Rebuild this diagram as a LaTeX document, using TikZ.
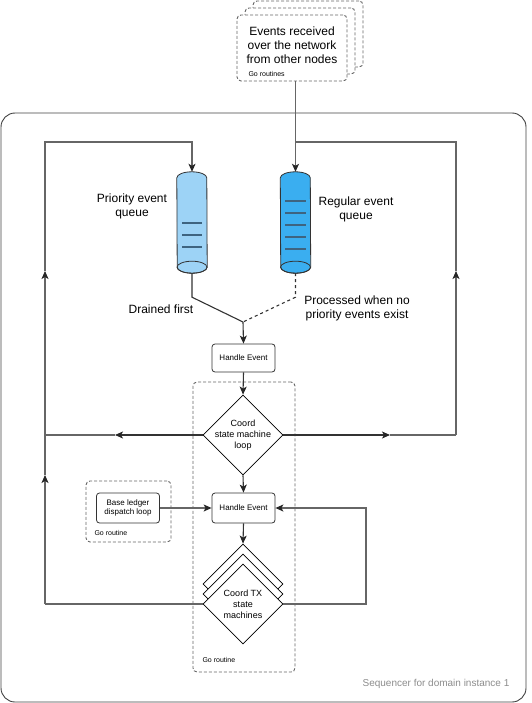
\documentclass[tikz,border=0pt]{standalone}
\usepackage{fontspec}
\setmainfont{Liberation Sans}
\usetikzlibrary{shapes.geometric,arrows.meta}
\definecolor{prioc}{HTML}{9DD3F6}
\definecolor{regc}{HTML}{3AAEF0}
\definecolor{qlinec}{HTML}{3E6480}
% cylinder drawn round a named node
\newcommand\drawqueue[2]{%
    \path[draw=black!80,line width=0.8pt,fill=#2] ([yshift=-6pt]#1.north west) arc[start angle=180,end angle=0,x radius=15pt,y radius=6pt]
        -- ([yshift=6pt]#1.south east) arc[start angle=0,end angle=-180,x radius=15pt,y radius=6pt] -- cycle;
    \draw[black!80,line width=0.8pt] ([yshift=6pt]#1.south) ellipse[x radius=15pt,y radius=6pt];}
\begin{document}
\begin{tikzpicture}[>={Stealth[length=8pt,width=7pt,inset=2pt,color=black!85]},x=1pt,y=-1pt,font=\fontsize{12}{14}\selectfont,
    conn/.style={draw=black!60,line width=1.1pt},
    dconn/.style={draw=black!80,line width=1.1pt},
    box/.style={draw=black!80,fill=white,rounded corners=3pt,line width=0.8pt,minimum width=63pt,minimum height=30pt,inner sep=0pt,align=center,font=\fontsize{8}{9.5}\selectfont},
    grp/.style={draw=black!60,dash pattern=on 3pt off 2pt,rounded corners=4pt,line width=0.9pt},
    evbox/.style={grp,fill=white,minimum width=110pt,minimum height=66pt},
    dia/.style={diamond,draw=black,fill=white,aspect=1,minimum width=80pt,minimum height=80pt,inner sep=0pt,line width=0.8pt},
    diatext/.style={align=center,font=\fontsize{9}{11}\selectfont},
    queue/.style={minimum width=30pt,minimum height=101pt,inner sep=0pt},
    qline/.style={draw=qlinec,line width=1.2pt},
    small/.style={anchor=west,font=\fontsize{7}{8}\selectfont}]
    \useasboundingbox (0,0) rectangle (531,703);
    \draw[draw=black!75,line width=0.9pt,rounded corners=14pt] (1,113) rectangle (526,702);
    \node[text=black!45,font=\fontsize{10}{12}\selectfont] (seqlbl) at (436,684) {Sequencer for domain instance 1};
    % events from the network
    \node[evbox] (ev3) at (308,34) {};
    \node[evbox] (ev2) at (300,41) {};
    \node[evbox,label={[align=center,yshift=3pt]center:Events received\\over the network\\from other nodes}] (ev) at (292,48) {};
    \node[small] (evlbl) at (245,74) {Go routines};
    % queues
    \node[queue] (priq) at (192,222.5) {};
    \node[queue] (regq) at (295.5,222.5) {};
    \drawqueue{priq}{prioc}
    \drawqueue{regq}{regc}
    \foreach \y in {223,235,247}\draw[qline] (182,\y)--(202,\y);
    \foreach \y in {201,213,225,237,249}\draw[qline] (285,\y)--(306,\y);
    \node[align=center] (prilbl) at (132,206) {Priority event\\queue};
    \node[align=center] (reglbl) at (356,209) {Regular event\\queue};
    \node (drainlbl) at (161,309) {Drained first};
    \node[align=center] (proclbl) at (357,308) {Processed when no\\priority events exist};
    % go routine groups
    \node[grp,minimum width=102pt,minimum height=290pt] (gocol) at (244,527) {};
    \node[small] (golbl) at (199,660) {Go routine};
    \node[grp,minimum width=85pt,minimum height=61pt] (basegrp) at (128.5,511.5) {};
    \node[small] (basegolbl) at (91,533) {Go routine};
    \node[box] (base) at (128,508) {Base ledger\\dispatch loop};
    \node[box,minimum height=28pt] (he1) at (243.5,358) {Handle Event};
    \node[box] (he2) at (243.5,508) {Handle Event};
    \node[dia,label={[diatext]center:Coord\\state machine\\loop}] (coord) at (243,435) {};
    \node[dia] (tx3) at (243,584) {};
    \node[dia] (tx2) at (243,594) {};
    \node[dia,label={[diatext]center:Coord TX\\state\\machines}] (tx) at (243,604) {};
    \coordinate (join) at (243,322);
    \coordinate (lt) at (45,142); \coordinate (rt) at (456,142);
    \coordinate (lm) at (45,435); \coordinate (rm) at (456,435);
    \coordinate (lb) at (45,604); \coordinate (rb) at (366,604);
    \coordinate (larr) at (115,435); \coordinate (rarr) at (390,435);
    \coordinate (lup) at (45,271); \coordinate (rup) at (456,271); \coordinate (lup2) at (45,475);
    % connectors
    \draw[conn,->] (ev.south -| regq.north) -- (regq.north);
    \draw[dconn,->] (coord.west) -- (larr);
    \draw[conn] (larr) -- (lm);
    \draw[conn,->] (lm) -- (lup);
    \draw[conn,->] (lup) -- (lt) -- (lt -| priq.north) -- (priq.north);
    \draw[dconn,->] (coord.east) -- (rarr);
    \draw[conn] (rarr) -- (rm);
    \draw[conn,->] (rm) -- (rup);
    \draw[conn] (rup) -- (rt) -- (rt -| regq.north);
    \draw[conn] (tx.west) -- (lb);
    \draw[conn,->] (lb) -- (lup2);
    \draw[conn] (lup2) -- (lm);
    \draw[conn,->] (tx.east) -- (rb) -- (rb |- he2.east) -- (he2.east);
    \draw[conn,->] (base.east) -- (he2.west);
    \draw[dconn] (priq.south) -- ++(0,24) -- (join);
    \draw[dconn,dash pattern=on 3pt off 3pt] (regq.south) -- ++(0,24) -- (join);
    \draw[dconn,->] (join) -- (he1.north);
    \draw[dconn,->] (he1.south) -- (coord.north);
    \draw[dconn,->] (coord.south) -- (he2.north);
    \draw[dconn,->] (he2.south) -- (tx3.north);
\end{tikzpicture}
\end{document}
